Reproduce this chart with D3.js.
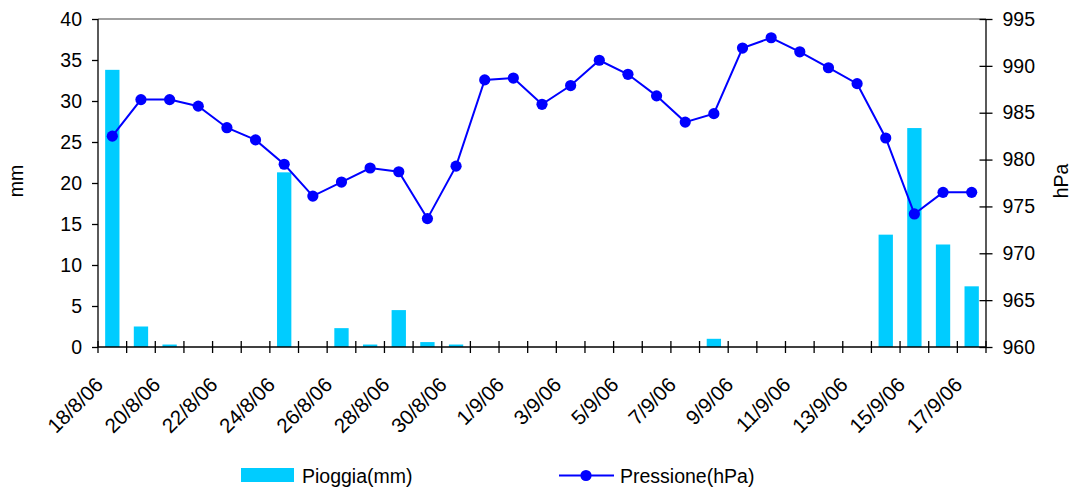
<!DOCTYPE html>
<html>
<head>
<meta charset="utf-8">
<script src="https://cdn.jsdelivr.net/npm/d3@7"></script>
<style>
  html, body { margin: 0; padding: 0; background: #fff; }
  svg { display: block; }
  text { font-family: "Liberation Sans", Arial, sans-serif; fill: #000; }
</style>
</head>
<body>
<svg id="chart" width="1071" height="487"></svg>
<script>
const dates = ["18/8/06","19/8/06","20/8/06","21/8/06","22/8/06","23/8/06","24/8/06","25/8/06","26/8/06","27/8/06","28/8/06","29/8/06","30/8/06","31/8/06",
  "1/9/06","2/9/06","3/9/06","4/9/06","5/9/06","6/9/06","7/9/06","8/9/06","9/9/06","10/9/06","11/9/06","12/9/06","13/9/06","14/9/06","15/9/06","16/9/06","17/9/06"];
const rain = [33.8, 2.5, 0.3, 0, 0, 0, 21.3, 0, 2.3, 0.3, 4.5, 0.6, 0.3, 0,
  0, 0, 0, 0, 0, 0, 0, 1.0, 0, 0, 0, 0, 0, 13.7, 26.7, 12.5, 7.4];
const pressure = [982.5, 986.4, 986.4, 985.7, 983.4, 982.1, 979.5, 976.1, 977.6, 979.1, 978.7, 973.7, 979.3, 988.5,
  988.7, 985.9, 987.9, 990.6, 989.1, 986.8, 984.0, 984.9, 991.9, 993.0, 991.5, 989.8, 988.1, 982.3, 974.2, 976.5, 976.5];
const rainTicks = [0, 5, 10, 15, 20, 25, 30, 35, 40];
const pressTicks = [960, 965, 970, 975, 980, 985, 990, 995];
const seriesNames = ["Pioggia(mm)", "Pressione(hPa)"];
const axisTitles = ["mm", "hPa"];

const svg = d3.select("#chart");
const L = 98, R = 986, T = 19, B = 347;

const x = d3.scaleBand().domain(dates).range([L, R]).paddingInner(0.5).paddingOuter(0.25);
const xi = d3.scaleLinear().domain([0, dates.length]).range([L, R]);
const yL = d3.scaleLinear().domain([0, 40]).range([B, T]);
const yR = d3.scaleLinear().domain([960, 995]).range([B, T]);

const barColor = "#00CCFF", lineColor = "#0000FF";

// top border
svg.append("line").attr("x1", L).attr("x2", R).attr("y1", T).attr("y2", T)
  .attr("stroke", "#808080").attr("stroke-width", 1.3);

// bars
svg.append("g").selectAll("rect").data(dates).join("rect")
  .attr("x", d => x(d))
  .attr("width", x.bandwidth())
  .attr("y", (d, i) => yL(rain[i]))
  .attr("height", (d, i) => B - yL(rain[i]))
  .attr("fill", barColor);

// left axis
const gl = svg.append("g").attr("transform", `translate(${L},0)`)
  .call(d3.axisLeft(yL).tickValues(rainTicks).tickSize(6).tickPadding(10));
gl.select(".domain").remove();
gl.selectAll(".tick line").attr("stroke", "#000").attr("stroke-width", 1.3);
gl.selectAll(".tick text").style("font-size", "19.5px").style("font-family", "'Liberation Sans', Arial, sans-serif").attr("fill", "#000");
svg.append("line").attr("x1", L).attr("x2", L).attr("y1", T).attr("y2", B).attr("stroke", "#000").attr("stroke-width", 1.3);

// right axis
const gr = svg.append("g").attr("transform", `translate(${R},0)`)
  .call(d3.axisRight(yR).tickValues(pressTicks).tickSize(6.5).tickPadding(10));
gr.select(".domain").remove();
gr.selectAll(".tick line").attr("x1", -6.5).attr("stroke", "#000").attr("stroke-width", 1.3);
gr.selectAll(".tick text").style("font-size", "19.5px").style("font-family", "'Liberation Sans', Arial, sans-serif").attr("fill", "#000");
svg.append("line").attr("x1", R).attr("x2", R).attr("y1", T).attr("y2", B).attr("stroke", "#000").attr("stroke-width", 1.3);

// bottom axis
svg.append("line").attr("x1", L).attr("x2", R).attr("y1", B).attr("y2", B).attr("stroke", "#000").attr("stroke-width", 1.3);
svg.append("g").selectAll("line").data(d3.range(dates.length + 1)).join("line")
  .attr("x1", d => xi(d)).attr("x2", d => xi(d))
  .attr("y1", B - 6).attr("y2", B + 6)
  .attr("stroke", "#000").attr("stroke-width", 1.3);

// date labels
svg.append("g").selectAll("text").data(dates.filter((d, i) => i % 2 === 0)).join("text")
  .attr("transform", d => `translate(${x(d) + x.bandwidth() / 2 - 8},386) rotate(-45)`)
  .attr("text-anchor", "end")
  .style("font-size", "20.5px")
  .text(d => d);

// pressure line
const line = d3.line().x((d, i) => x(dates[i]) + x.bandwidth() / 2).y(d => yR(d));
svg.append("path").datum(pressure).attr("d", line)
  .attr("fill", "none").attr("stroke", lineColor).attr("stroke-width", 2);
svg.append("g").selectAll("circle").data(pressure).join("circle")
  .attr("cx", (d, i) => x(dates[i]) + x.bandwidth() / 2)
  .attr("cy", d => yR(d))
  .attr("r", 5.6)
  .attr("fill", lineColor);

// axis titles
svg.append("text").attr("transform", "translate(23,181) rotate(-90)")
  .attr("text-anchor", "middle").style("font-size", "19.5px").text(axisTitles[0]);
svg.append("text").attr("transform", "translate(1068,181) rotate(-90)")
  .attr("text-anchor", "middle").style("font-size", "19.5px").text(axisTitles[1]);

// legend
const lg = svg.append("g");
lg.append("rect").attr("x", 241).attr("y", 468).attr("width", 53).attr("height", 14).attr("fill", barColor);
lg.append("text").attr("x", 302).attr("y", 483).style("font-size", "19.5px").text(seriesNames[0]);
lg.append("line").attr("x1", 559).attr("x2", 614).attr("y1", 475.5).attr("y2", 475.5)
  .attr("stroke", lineColor).attr("stroke-width", 2);
lg.append("circle").attr("cx", 586).attr("cy", 475.5).attr("r", 5.6).attr("fill", lineColor);
lg.append("text").attr("x", 620).attr("y", 483).style("font-size", "19.5px").text(seriesNames[1]);
</script>
</body>
</html>
